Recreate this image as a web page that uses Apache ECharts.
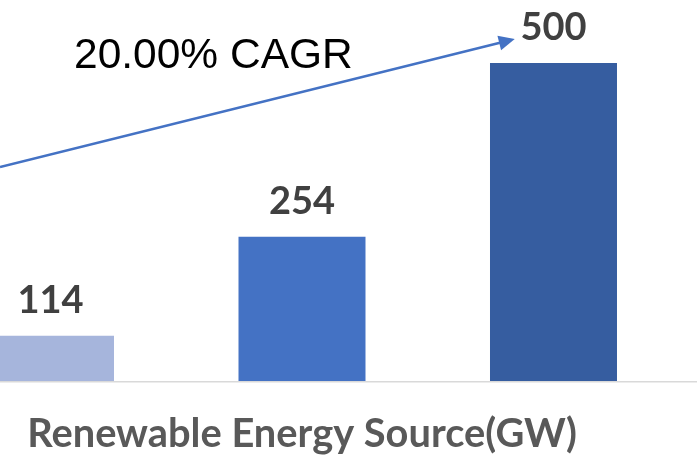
<!DOCTYPE html>
<html>
<head>
<meta charset="utf-8">
<script src="https://cdn.jsdelivr.net/npm/echarts@6/dist/echarts.min.js"></script>
<style>
  html, body { margin: 0; padding: 0; background: #ffffff; }
  #chart { width: 697px; height: 458px; }
</style>
</head>
<body>
<div id="chart"></div>
<script>
// Installed capacity figures (GW), one bar per period
const periods = [0, 1, 2];
const capacity = [114, 254, 500];
const barColors = ['#A6B5DC', '#4472C4', '#365DA0'];
const axisTitle = 'Renewable Energy Source(GW)';
const growthNote = '20.00% CAGR';

const chart = echarts.init(document.getElementById('chart'), null, { renderer: 'canvas' });

const option = {
  animation: false,
  backgroundColor: '#ffffff',
  grid: { left: 0, right: 0, top: 27.7, bottom: 77, containLabel: false },
  xAxis: {
    type: 'value',
    min: -0.2008,
    max: 2.5706,
    show: false,
    splitLine: { show: false }
  },
  yAxis: {
    type: 'value',
    min: 50,
    max: 550,
    show: false,
    splitLine: { show: false }
  },
  series: [{
    type: 'bar',
    data: periods.map((p, i) => ({ value: [p, capacity[i]], itemStyle: { color: barColors[i] } })),
    barWidth: 127,
    label: {
      show: true,
      position: 'top',
      distance: 16,
      fontFamily: 'Lato',
      fontWeight: 'bold',
      fontSize: 38,
      lineHeight: 38,
      color: '#404040',
      formatter: (p) => p.value[1]
    },
    markLine: {
      silent: true,
      symbol: ['none', 'triangle'],
      symbolSize: [15, 16],
      label: { show: false },
      lineStyle: { color: '#4472C4', width: 2.5, type: 'solid' },
      data: [[{ x: 0, y: 167 }, { x: 507, y: 41 }]]
    }
  }]
};

chart.setOption(option);

// Baseline rule across the full width and the category title under the middle bar
const baseY = chart.convertToPixel({ yAxisIndex: 0 }, 50);
const midX = chart.convertToPixel({ xAxisIndex: 0 }, periods[1]);
chart.setOption({
  graphic: [{
    type: 'text',
    left: 74,
    top: 35,
    style: {
      text: growthNote,
      font: '42.5px "Liberation Sans", Arial, sans-serif',
      fill: '#000000'
    }
  }, {
    type: 'line',
    shape: { x1: 0, y1: baseY + 0.75, x2: 697, y2: baseY + 0.75 },
    style: { stroke: '#D9D9D9', lineWidth: 1.5 },
    z: 0
  }, {
    type: 'text',
    x: midX,
    y: baseY + 53,
    style: {
      text: axisTitle,
      font: 'bold 39.8px Lato, sans-serif',
      fill: '#595959',
      align: 'center',
      verticalAlign: 'middle'
    }
  }]
});
</script>
</body>
</html>
